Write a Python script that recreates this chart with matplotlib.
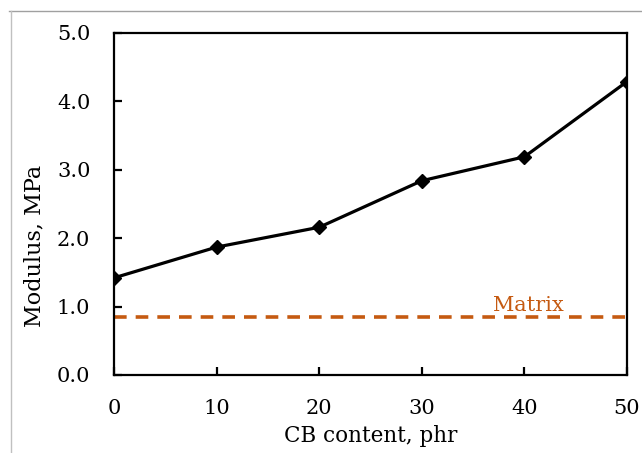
import matplotlib.pyplot as plt
from matplotlib.lines import Line2D

# Modulus vs CB content
cb_content = [0, 10, 20, 30, 40, 50]
modulus = [1.42, 1.87, 2.16, 2.84, 3.19, 4.29]
matrix_modulus = 0.85

plt.rcParams['font.family'] = ['DejaVu Serif']

fig = plt.figure(figsize=(6.42, 4.53), dpi=100)
ax = fig.add_axes([114 / 642, 1 - 375 / 453, (627 - 114) / 642, (375 - 33) / 453])

ax.plot(cb_content, modulus, color='black', lw=2.3, marker='D', ms=7.5, zorder=3)
ax.axhline(matrix_modulus, color='#C55A11', lw=2.6, ls=(0, (3.5, 2.5)), zorder=2)
ax.text(40.4, matrix_modulus + 0.03, 'Matrix', color='#C55A11', fontsize=15,
        ha='center', va='bottom')

ax.set_xlim(0, 50)
ax.set_ylim(0, 5)
ax.set_xticks(cb_content)
ax.set_yticks([0, 1, 2, 3, 4, 5])
ax.set_yticklabels([f'{v:.1f}' for v in [0, 1, 2, 3, 4, 5]])
ax.tick_params(direction='in', length=6, width=1.6, labelsize=15)
ax.tick_params(axis='x', pad=17)
ax.tick_params(axis='y', pad=17)
for s in ax.spines.values():
    s.set_linewidth(1.6)

ax.set_xlabel('CB content, phr', fontsize=15.5, labelpad=5)
ax.set_ylabel('Modulus, MPa', fontsize=16, va='center')
ax.yaxis.set_label_coords(-0.156, 0.377)

# thin gray frame of the original screenshot
fig.add_artist(Line2D([9 / 642, 1], [1 - 11 / 453, 1 - 11 / 453], color='#a0a0a0', lw=1))
fig.add_artist(Line2D([11.5 / 642, 11.5 / 642], [0, 1 - 11 / 453], color='#c0c0c0', lw=1))

plt.savefig('out.png', dpi=100)
